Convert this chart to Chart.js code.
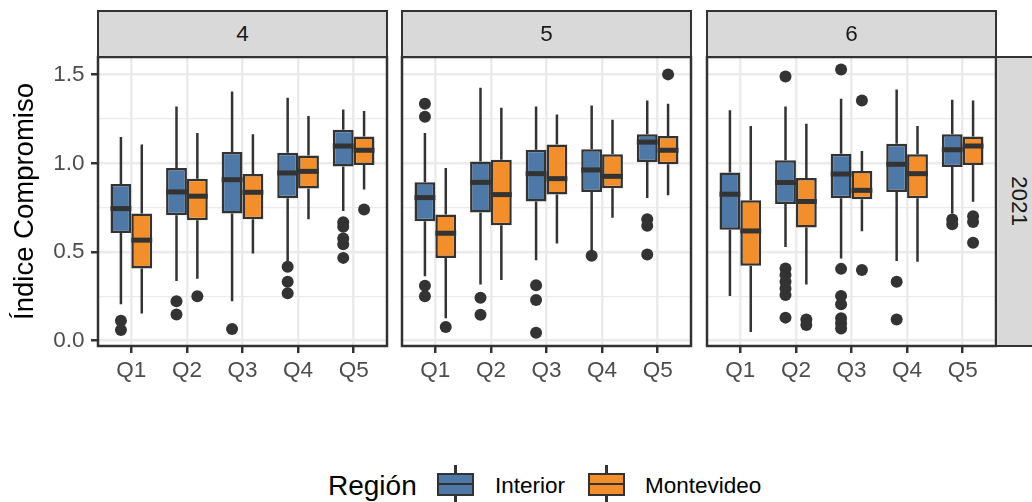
<!DOCTYPE html>
<html><head><meta charset="utf-8">
<script src="https://cdn.jsdelivr.net/npm/chart.js@4.4.1/dist/chart.umd.min.js"></script>
<style>
body{margin:0;background:#fff;}
#wrap{position:relative;width:1032px;height:502px;overflow:hidden;font-family:"Liberation Sans",Arial,sans-serif;background:#fff;}
canvas{position:absolute;top:0;}
.strip{position:absolute;box-sizing:border-box;background:#D9D9D9;border:2.5px solid #333333;color:#1A1A1A;font-size:22.5px;text-align:center;}
.lg{position:absolute;white-space:nowrap;line-height:1;color:#000;}
.key{position:absolute;}
.key .wh{position:absolute;left:17.25px;top:0;width:2.5px;height:37px;background:#333333;}
.key .bx{position:absolute;left:0;top:7.5px;width:37px;height:23px;box-sizing:border-box;border:2.5px solid #333333;}
.key .md{position:absolute;left:0;top:17.75px;width:37px;height:2.5px;background:#333333;}
</style></head>
<body>
<div id="wrap">
  <canvas id="c0" width="392" height="400" style="left:0px"></canvas>
  <canvas id="c1" width="304" height="400" style="left:392px"></canvas>
  <canvas id="c2" width="304" height="400" style="left:697px"></canvas>
</div>
<script>
// ---------- data ----------
const categories = ['Q1', 'Q2', 'Q3', 'Q4', 'Q5'];
const panelLabels = ['4', '5', '6'];
const rowLabel = '2021';
const seriesNames = ['Interior', 'Montevideo'];
const seriesColors = ['#4E79A7', '#F28E2B'];
const yTickValues = [0, 0.25, 0.5, 0.75, 1, 1.25, 1.5];
const yTickLabels = ['0.0', '', '0.5', '', '1.0', '', '1.5'];
const yTitle = 'Índice Compromiso';
const legendTitle = 'Región';

// Panel 4
const interior4Low = [0.206, 0.336, 0.223, 0.435, 0.732];
const interior4Q1 = [0.608, 0.708, 0.717, 0.803, 0.983];
const interior4Median = [0.745, 0.839, 0.908, 0.946, 1.098];
const interior4Q3 = [0.884, 0.974, 1.064, 1.060, 1.190];
const interior4High = [1.149, 1.321, 1.406, 1.370, 1.304];
const interior4Outliers = [[0.113, 0.060], [0.223, 0.148], [0.066], [0.417, 0.332, 0.267], [0.668, 0.642, 0.576, 0.544, 0.467]];
const montevideo4Low = [0.154, 0.349, 0.492, 0.685, 0.852];
const montevideo4Q1 = [0.407, 0.679, 0.685, 0.858, 0.991];
const montevideo4Median = [0.567, 0.815, 0.837, 0.955, 1.074];
const montevideo4Q3 = [0.717, 0.914, 0.940, 1.044, 1.152];
const montevideo4High = [1.107, 1.171, 1.164, 1.267, 1.295];
const montevideo4Outliers = [[], [0.250], [], [], [0.740]];

// Panel 5
const interior5Low = [0.364, 0.317, 0.454, 0.500, 0.805];
const interior5Q1 = [0.674, 0.723, 0.785, 0.839, 1.008];
const interior5Median = [0.807, 0.893, 0.942, 0.963, 1.120];
const interior5Q3 = [0.893, 1.010, 1.077, 1.079, 1.164];
const interior5High = [1.171, 1.426, 1.321, 1.327, 1.355];
const interior5Outliers = [[1.336, 1.263, 0.310, 0.250], [0.242, 0.146], [0.312, 0.229, 0.045], [0.479], [0.685, 0.648, 0.486]];
const montevideo5Low = [0.126, 0.342, 0.548, 0.694, 0.820];
const montevideo5Q1 = [0.467, 0.651, 0.824, 0.860, 0.995];
const montevideo5Median = [0.606, 0.824, 0.914, 0.927, 1.074];
const montevideo5Q3 = [0.711, 1.021, 1.107, 1.051, 1.154];
const montevideo5High = [0.974, 1.314, 1.276, 1.246, 1.336];
const montevideo5Outliers = [[0.077], [], [], [], [1.502]];

// Panel 6
const interior6Low = [0.252, 0.529, 0.464, 0.449, 0.717];
const interior6Q1 = [0.625, 0.771, 0.803, 0.839, 0.980];
const interior6Median = [0.826, 0.892, 0.940, 0.995, 1.077];
const interior6Q3 = [0.948, 1.017, 1.055, 1.111, 1.164];
const interior6High = [1.299, 1.321, 1.364, 1.417, 1.359];
const interior6Outliers = [[], [1.490, 0.407, 0.370, 0.332, 0.295, 0.257, 0.130], [1.530, 0.405, 0.252, 0.205, 0.126, 0.098, 0.069], [0.332, 0.120], [0.683, 0.657]];
const montevideo6Low = [0.049, 0.317, 0.617, 0.445, 0.783];
const montevideo6Q1 = [0.422, 0.638, 0.798, 0.803, 0.991];
const montevideo6Median = [0.619, 0.785, 0.848, 0.942, 1.098];
const montevideo6Q3 = [0.792, 0.918, 0.957, 1.051, 1.151];
const montevideo6High = [1.211, 1.224, 1.070, 1.211, 1.355];
const montevideo6Outliers = [[], [0.120, 0.088], [1.355, 0.398], [], [0.702, 0.670, 0.552]];

// ---------- tables built from the arrays ----------
const panelStats = [
  [
    {lo: interior4Low, q1: interior4Q1, med: interior4Median, q3: interior4Q3, hi: interior4High, out: interior4Outliers},
    {lo: montevideo4Low, q1: montevideo4Q1, med: montevideo4Median, q3: montevideo4Q3, hi: montevideo4High, out: montevideo4Outliers}
  ],
  [
    {lo: interior5Low, q1: interior5Q1, med: interior5Median, q3: interior5Q3, hi: interior5High, out: interior5Outliers},
    {lo: montevideo5Low, q1: montevideo5Q1, med: montevideo5Median, q3: montevideo5Q3, hi: montevideo5High, out: montevideo5Outliers}
  ],
  [
    {lo: interior6Low, q1: interior6Q1, med: interior6Median, q3: interior6Q3, hi: interior6High, out: interior6Outliers},
    {lo: montevideo6Low, q1: montevideo6Q1, med: montevideo6Median, q3: montevideo6Q3, hi: montevideo6High, out: montevideo6Outliers}
  ]
];

const FONT = '"Liberation Sans", Arial, sans-serif';
const INK = '#333333';

const boxPlugin = {
  id: 'boxExtras',
  beforeDatasetsDraw(chart) {
    const ctx = chart.ctx, ys = chart.scales.y;
    ctx.save();
    ctx.strokeStyle = INK; ctx.lineWidth = 2.5; ctx.lineCap = 'butt';
    chart.data.datasets.forEach((ds, d) => {
      const s = ds.stats;
      chart.getDatasetMeta(d).data.forEach((bar, i) => {
        ctx.beginPath();
        ctx.moveTo(bar.x, ys.getPixelForValue(s.hi[i]));
        ctx.lineTo(bar.x, ys.getPixelForValue(s.q3[i]));
        ctx.moveTo(bar.x, ys.getPixelForValue(s.q1[i]));
        ctx.lineTo(bar.x, ys.getPixelForValue(s.lo[i]));
        ctx.stroke();
      });
    });
    ctx.restore();
  },
  afterDatasetsDraw(chart) {
    const ctx = chart.ctx, ys = chart.scales.y, a = chart.chartArea;
    ctx.save();
    chart.data.datasets.forEach((ds, d) => {
      const s = ds.stats;
      chart.getDatasetMeta(d).data.forEach((bar, i) => {
        const ym = ys.getPixelForValue(s.med[i]);
        ctx.strokeStyle = INK; ctx.lineWidth = 5;
        ctx.beginPath();
        ctx.moveTo(bar.x - bar.width / 2, ym);
        ctx.lineTo(bar.x + bar.width / 2, ym);
        ctx.stroke();
        ctx.fillStyle = INK;
        s.out[i].forEach(v => {
          ctx.beginPath();
          ctx.arc(bar.x, ys.getPixelForValue(v), 6, 0, Math.PI * 2);
          ctx.fill();
        });
      });
    });
    ctx.strokeStyle = INK; ctx.lineWidth = 2.5;
    ctx.strokeRect(a.left, a.top, a.right - a.left, a.bottom - a.top);
    ctx.restore();
  }
};

function buildPanel(p) {
  const first = p === 0;
  const canvas = document.getElementById('c' + p);
  const padRight = 5;
  const yWidth = first ? 98 : 10;
  const datasets = panelStats[p].map((s, k) => ({
    label: seriesNames[k],
    data: categories.map((c, i) => ({x: i + 1, y: [s.q1[i], s.q3[i]]})),
    stats: s,
    backgroundColor: seriesColors[k],
    borderColor: INK,
    borderWidth: 2.5,
    borderSkipped: false,
    categoryPercentage: 0.75,
    barPercentage: 1.0
  }));
  return new Chart(canvas, {
    type: 'bar',
    data: {datasets},
    plugins: [boxPlugin],
    options: {
      responsive: false,
      animation: false,
      events: [],
      layout: {padding: {top: 57, right: padRight, left: 0, bottom: 0}},
      plugins: {legend: {display: false}, tooltip: {enabled: false}},
      scales: {
        x: {
          type: 'linear', min: 0.4, max: 5.6, offset: false,
          afterBuildTicks: s => { s.ticks = categories.map((c, i) => ({value: i + 1})); },
          afterFit: s => { s.height = 54; },
          border: {display: false},
          grid: {offset: false, color: '#EBEBEB', lineWidth: 2.5, drawTicks: true, tickLength: 7, tickColor: INK, tickWidth: 2.5},
          ticks: {autoSkip: false, maxRotation: 0, padding: 4, color: '#4D4D4D', font: {family: FONT, size: 22.5},
                  callback: (v, i) => categories[i]}
        },
        y: {
          type: 'linear', min: -0.03, max: 1.6,
          afterBuildTicks: s => { s.ticks = yTickValues.map(v => ({value: v})); },
          afterFit: s => { s.width = yWidth; },
          border: {display: false},
          grid: {
            color: '#EBEBEB',
            lineWidth: c => (yTickLabels[c.index] ? 2.5 : 1.3),
            drawTicks: first, tickLength: 7, tickWidth: 2.5,
            tickColor: c => (yTickLabels[c.index] ? INK : 'rgba(0,0,0,0)')
          },
          ticks: {display: first, padding: 6.5, color: '#4D4D4D', font: {family: FONT, size: 22.5},
                  callback: (v, i) => yTickLabels[i]},
          title: {display: first, text: yTitle, color: '#000000', font: {family: FONT, size: 27.5}, padding: {top: 9, bottom: 0}}
        }
      }
    }
  });
}

[0, 1, 2].forEach(buildPanel);

// ---------- strips and legend (real text) ----------
const wrap = document.getElementById('wrap');
const panelLefts = [98, 402, 707];
const panelW = 289;
panelLabels.forEach((lab, p) => {
  const d = document.createElement('div');
  d.className = 'strip';
  d.style.left = (panelLefts[p] - 1.25) + 'px';
  d.style.top = '9.75px';
  d.style.width = (panelW + 2.5) + 'px';
  d.style.height = '48.5px';
  d.style.lineHeight = '43.5px';
  d.textContent = lab;
  wrap.appendChild(d);
});
const rs = document.createElement('div');
rs.className = 'strip';
rs.style.left = '994.75px';
rs.style.top = '55.75px';
rs.style.width = '48.5px';
rs.style.height = '291.5px';
rs.style.writingMode = 'vertical-rl';
rs.style.lineHeight = '43.5px';
rs.style.textAlign = 'center';
rs.textContent = rowLabel;
wrap.appendChild(rs);

function addText(txt, left, top, size) {
  const d = document.createElement('div');
  d.className = 'lg';
  d.style.left = left + 'px'; d.style.top = top + 'px'; d.style.fontSize = size + 'px';
  d.textContent = txt;
  wrap.appendChild(d);
}
function addKey(left, color) {
  const k = document.createElement('div');
  k.className = 'key';
  k.style.left = left + 'px'; k.style.top = '465px'; k.style.width = '37px'; k.style.height = '37px';
  k.innerHTML = '<div class="wh"></div><div class="bx" style="background:' + color + '"></div><div class="md"></div>';
  wrap.appendChild(k);
}
addText(legendTitle, 328, 471.7, 28);
addKey(437, seriesColors[0]);
addText(seriesNames[0], 495, 474.9, 22.5);
addKey(588, seriesColors[1]);
addText(seriesNames[1], 645, 474.9, 22.5);
</script>
</body></html>
